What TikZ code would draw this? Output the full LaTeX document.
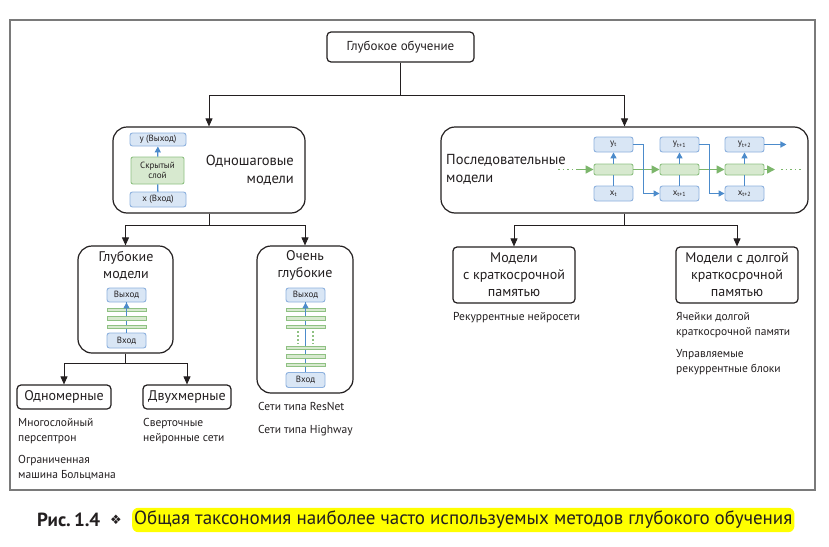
\documentclass[tikz,border=0pt]{standalone}
\usepackage{fontspec}
\setmainfont{PT Sans}
\newfontfamily\dingfont{DejaVu Sans}
\usetikzlibrary{arrows.meta,calc}

\definecolor{inkgray}{HTML}{231F20}
\definecolor{framegray}{HTML}{7A7A7A}
\definecolor{bluefill}{HTML}{D9E6F5}
\definecolor{blueline}{HTML}{8DB1DE}
\definecolor{bluearrow}{HTML}{4C8BCB}
\definecolor{greenfill}{HTML}{D7E9CF}
\definecolor{greenline}{HTML}{8FC183}
\definecolor{greenarrow}{HTML}{7CB66B}
\definecolor{marker}{HTML}{FFFF00}

\tikzset{
  tbox/.style={draw=inkgray, line width=1.2pt, rounded corners=4pt, fill=white,
    text=inkgray, align=center, inner sep=0pt},
  bigbox/.style={tbox, rounded corners=14pt},
  bluebox/.style={draw=blueline, fill=bluefill, line width=0.9pt, rounded corners=2.5pt,
    text=inkgray, inner sep=0pt, font=\fontsize{9}{10}\selectfont},
  greenbox/.style={draw=greenline, fill=greenfill, line width=0.9pt, rounded corners=2pt,
    inner sep=0pt, text=inkgray, align=center},
  leaftext/.style={text=inkgray, align=left, anchor=north west, inner sep=0pt,
    font=\fontsize{11.5}{15.5}\selectfont},
  titletext/.style={text=inkgray, inner sep=0pt, font=\fontsize{14}{17}\selectfont},
  arr/.style={draw=inkgray, line width=0.9pt, -{Triangle[length=8pt,width=7pt]}},
  bline/.style={draw=bluearrow, line width=1.3pt},
  blarr/.style={bline, -{Triangle[length=6pt,width=6pt]}},
  grarr/.style={draw=greenarrow, line width=1.6pt, -{Triangle[length=8pt,width=8pt]}},
  grdots/.style={draw=greenarrow, line width=1.6pt, dash pattern=on 1.6pt off 3pt},
}

\begin{document}
\begin{tikzpicture}[x=1pt,y=-1pt]
\useasboundingbox (0,0) rectangle (829,546);
\fill[white] (0,0) rectangle (829,546);
% frame
\draw[framegray, line width=2pt] (10,20) rectangle (815,490);

% root
\node[tbox, minimum width=147pt, minimum height=30pt, font=\fontsize{13}{15}\selectfont] (root) at (400.5,47) {Глубокое обучение};

% single-step models
\node[bigbox, minimum width=192pt, minimum height=86pt] (one) at (209,170) {};
\node[titletext, align=right, anchor=east, font=\fontsize{14.5}{18}\selectfont] (onetxt) at (294,170) {Одношаговые\\модели};
\node[bluebox, minimum width=56pt, minimum height=13pt] (oney) at (158,139.5) {y (Выход)};
\node[greenbox, minimum width=53pt, minimum height=27pt, font=\fontsize{9}{10.5}\selectfont] (oneh) at (157.5,170.5) {Скрытый\\слой};
\node[bluebox, minimum width=56pt, minimum height=15pt] (onex) at (158,199.5) {x (Вход)};
\draw[bline] (onex) -- (oneh);
\draw[blarr] (oneh) -- (oney);

% sequential models
\node[bigbox, minimum width=367pt, minimum height=86pt] (seq) at (624.5,170) {};
\node[titletext, align=left, anchor=west, font=\fontsize{14.5}{18}\selectfont] (seqtxt) at (446,169) {Последовательные\\модели};
\foreach \i/\cx/\s in {1/613.5/t, 2/679.5/t+1, 3/744.5/t+2}{
  \node[bluebox, minimum width=39pt, minimum height=15pt] (y\i) at (\cx,144.5) {y\textsubscript{\s}};
  \node[greenbox, minimum width=39pt, minimum height=11pt] (c\i) at (\cx,169.5) {};
  \node[bluebox, minimum width=39pt, minimum height=15pt] (x\i) at (\cx,193.5) {x\textsubscript{\s}};
  \draw[bline] (x\i) -- (c\i);
  \draw[blarr] (c\i) -- (y\i);
}
\coordinate (seqin) at (558,169.5);
\coordinate (seqina) at (576,169.5);
\coordinate (seqout) at (775,169.5);
\coordinate (seqoutb) at (801,169.5);
\draw[grdots] (seqin) -- (seqina);
\draw[grarr] (seqina) -- (c1);
\draw[grarr] (c1) -- (c2);
\draw[grarr] (c2) -- (c3);
\draw[grarr] (c3) -- (seqout);
\draw[grdots] ($(seqout)+(6,0)$) -- (seqoutb);
\draw[blarr] (y1.east) -- ++(10,0) |- (x2.west);
\draw[blarr] (y2.east) -- ++(10,0) |- (x3.west);
\draw[blarr] (y3.east) -- ++(22,0);

\draw[arr] (root.south) -- ++(0,33) -| (one.north);
\draw[arr] (root.south) -- ++(0,33) -| (seq.north);

% deep models
\node[tbox, rounded corners=14pt, minimum width=95pt, minimum height=107pt] (deep) at (125.5,299.5) {};
\node[titletext, align=center] (deeptxt) at (126,265.5) {Глубокие\\модели};
\node[bluebox, minimum width=39pt, minimum height=14pt] (deepout) at (126.5,295) {Выход};
\node[bluebox, minimum width=39pt, minimum height=15pt] (deepin) at (126.5,340.5) {Вход};
\draw[bline] (deepin) -- (deepout);
\foreach \y in {310,318.5,327}
  \filldraw[draw=greenline, fill=greenfill, line width=0.8pt] (107,\y-1.8) rectangle (146,\y+1.8);
\draw[blarr] ($(deepout.south)+(0,10)$) -- (deepout);

% very deep models
\node[tbox, rounded corners=14pt, minimum width=96pt, minimum height=147pt] (vdeep) at (305,319.5) {};
\node[titletext, align=center] (vdeeptxt) at (305,265.5) {Очень\\глубокие};
\node[bluebox, minimum width=39pt, minimum height=14pt] (vdeepout) at (305.5,295) {Выход};
\node[bluebox, minimum width=39pt, minimum height=15pt] (vdeepin) at (305.5,380) {Вход};
\draw[bline] (vdeepin) -- (vdeepout);
\foreach \y in {310,318.5,327,348,356.5,365}
  \filldraw[draw=greenline, fill=greenfill, line width=0.8pt] (286,\y-1.8) rectangle (325,\y+1.8);
\draw[greenline, line width=1.3pt, dash pattern=on 2pt off 2pt] (298,331) -- (298,344);
\draw[greenline, line width=1.3pt, dash pattern=on 2pt off 2pt] (313,331) -- (313,344);
\draw[blarr] ($(vdeepout.south)+(0,10)$) -- (vdeepout);

\draw[arr] (one.south) -- ++(0,12) -| (deep.north);
\draw[arr] (one.south) -- ++(0,12) -| (vdeep.north);

% one- and two-dimensional
\node[tbox, minimum width=94pt, minimum height=24pt, font=\fontsize{14}{16}\selectfont] (onedim) at (64,397) {Одномерные};
\node[tbox, minimum width=88pt, minimum height=24pt, font=\fontsize{14}{16}\selectfont] (twodim) at (187,397) {Двухмерные};
\draw[arr] (deep.south) -- ++(0,10) -| (onedim.north);
\draw[arr] (deep.south) -- ++(0,10) -| (twodim.north);

% memory models
\node[tbox, minimum width=122pt, minimum height=56pt, font=\fontsize{14}{17}\selectfont] (short) at (514,275) {Модели\\с краткосрочной\\памятью};
\node[tbox, minimum width=122pt, minimum height=56pt, font=\fontsize{14}{17}\selectfont] (long) at (737,275) {Модели с долгой\\краткосрочной\\памятью};
\draw[arr] (seq.south) -- ++(0,12) -| (short.north);
\draw[arr] (seq.south) -- ++(0,12) -| (long.north);

% examples
\node[leaftext] (mlp) at (18,418) {Многослойный\\персептрон};
\node[leaftext] (rbm) at (18,455) {Ограниченная\\машина Больцмана};
\node[leaftext] (cnn) at (143,418) {Сверточные\\нейронные сети};
\node[leaftext] (resnet) at (258,402) {Сети типа ResNet};
\node[leaftext] (highway) at (258,425) {Сети типа Highway};
\node[leaftext] (rnn) at (453,312) {Рекуррентные нейросети};
\node[leaftext] (lstm) at (676,312) {Ячейки долгой\\краткосрочной памяти};
\node[leaftext] (gru) at (676,349) {Управляемые\\рекуррентные блоки};

% caption
\node[anchor=west, inner sep=0pt, text=inkgray, font=\bfseries\fontsize{19}{21}\selectfont] (capnum) at (37,520) {Рис.\,1.4};
\node[inner sep=0pt, text=inkgray, font=\dingfont\fontsize{13}{15}\selectfont] (capsym) at (116,520) {❖};
\node[anchor=west, fill=marker, rounded corners=6pt, inner xsep=2pt, minimum height=23pt, text=inkgray, font=\fontsize{19}{21}\selectfont] (captext) at (132,520) {Общая таксономия наиболее часто используемых методов глубокого обучения};
\end{tikzpicture}
\end{document}
